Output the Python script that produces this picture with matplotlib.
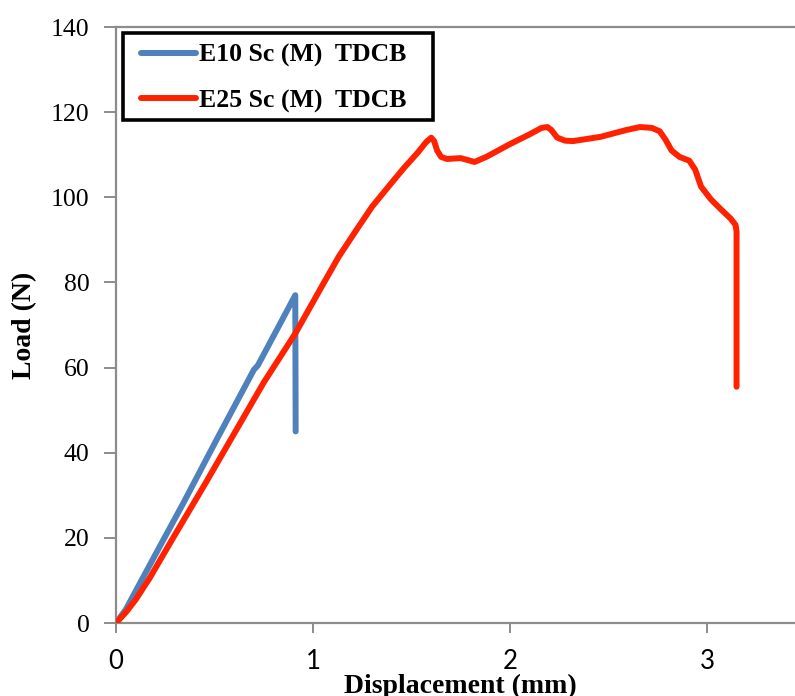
import matplotlib
matplotlib.use("Agg")
import matplotlib.pyplot as plt
from matplotlib.lines import Line2D
from matplotlib.patches import Rectangle

# Load-displacement curves, TDCB specimens
e10_disp = [0, 0.05, 0.17, 0.24, 0.34, 0.51, 0.70, 0.72, 0.91, 0.912]
e10_load = [0, 3.2, 13.5, 19.5, 28, 43, 59.5, 60.5, 77, 45]

e25_disp = [0, 0.05, 0.10, 0.17, 0.29, 0.45, 0.60, 0.75, 0.91, 1.05, 1.13,
            1.22, 1.30, 1.39, 1.46, 1.53, 1.575, 1.60, 1.615, 1.63, 1.65,
            1.68, 1.75, 1.82, 1.88, 2.00, 2.10, 2.16, 2.19, 2.21, 2.24,
            2.28, 2.32, 2.46, 2.59, 2.66, 2.72, 2.76, 2.79, 2.82, 2.86,
            2.91, 2.94, 2.97, 3.02, 3.07, 3.12, 3.145, 3.15, 3.15]
e25_load = [0, 2.5, 5.5, 10.5, 20, 32.5, 44.5, 56.5, 68, 79.5, 86,
            92.3, 97.8, 102.9, 106.8, 110.4, 113, 114, 113.2, 111, 109.5,
            109, 109.2, 108.3, 109.5, 112.5, 114.8, 116.3, 116.5, 115.8, 114,
            113.3, 113.2, 114.2, 115.8, 116.5, 116.3, 115.5, 113.5, 111,
            109.5, 108.6, 106.5, 102.5, 99.5, 97.2, 95, 93.5, 92, 55.5]

series_names = ["E10 Sc (M)  TDCB", "E25 Sc (M)  TDCB"]
series_colors = ["#4F81BD", "#FF2200"]

x_ticks = [0, 1, 2, 3]
y_ticks = [0, 20, 40, 60, 80, 100, 120, 140]

W, H = 795, 696
fig = plt.figure(figsize=(W / 100, H / 100), dpi=100)
fig.patch.set_facecolor("white")

# plot area in pixels: x=0 at 116, y=0 at 623, y=140 at 27, 197 px per mm
left_px, bottom_px, top_px = 116, 623, 27
px_per_mm = 197
x_max = 3.5
ax = fig.add_axes([left_px / W, (H - bottom_px) / H,
                   x_max * px_per_mm / W, (bottom_px - top_px) / H])

lw = 4.3
ax.plot(e10_disp, e10_load, color=series_colors[0], lw=lw,
        solid_capstyle="round", solid_joinstyle="round", zorder=2)
ax.plot(e25_disp, e25_load, color=series_colors[1], lw=lw,
        solid_capstyle="round", solid_joinstyle="round", zorder=3)

ax.set_xlim(0, x_max)
ax.set_ylim(0, 140)
ax.set_xticks(x_ticks)
ax.set_yticks(y_ticks)
ax.set_xticklabels([str(t) for t in x_ticks], fontfamily="Lato", fontsize=18.5)
ax.set_yticklabels([str(t) for t in y_ticks], fontfamily="Liberation Serif",
                   fontsize=18.5)

spine_color = "#8C8C8C"
for s in ax.spines.values():
    s.set_color(spine_color)
    s.set_linewidth(1.6)
ax.tick_params(axis="both", direction="out", color=spine_color, width=1.4)
ax.tick_params(axis="y", length=9, pad=10)
ax.tick_params(axis="x", length=7, pad=12)

ax.set_ylabel("Load (N)", fontfamily="Liberation Serif", fontweight="bold",
              fontsize=20, labelpad=10)
ax.set_xlabel("Displacement (mm)", fontfamily="Liberation Serif",
              fontweight="bold", fontsize=20, labelpad=-0.5)

# legend entries without frame; the box is drawn separately
handles = [Line2D([0], [0], color=c, lw=lw, solid_capstyle="round")
           for c in series_colors]
leg = fig.legend(handles, series_names, loc="upper left",
                 bbox_to_anchor=(141 / W, 1 - 44 / H),
                 prop={"family": "Liberation Serif", "weight": "bold",
                       "size": 18.5},
                 frameon=False, handlelength=2.15,
                 handletextpad=0.12, borderpad=0, labelspacing=0.85,
                 borderaxespad=0)
fig.patches.append(Rectangle((123 / W, 1 - 120 / H), 310 / W, 87 / H,
                             transform=fig.transFigure, fill=False,
                             edgecolor="black", linewidth=2.6, zorder=5))

fig.savefig("out.png", dpi=100)
